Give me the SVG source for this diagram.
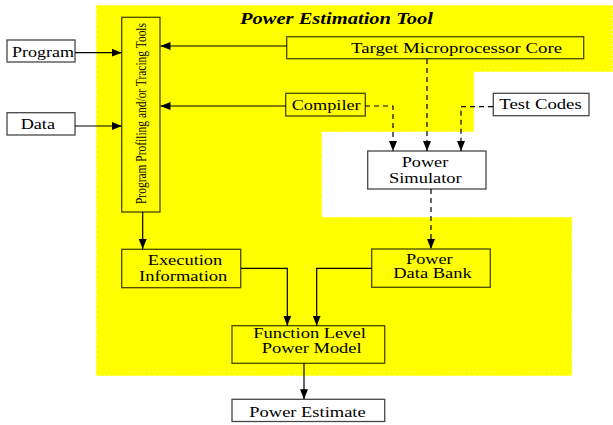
<svg xmlns="http://www.w3.org/2000/svg" width="613" height="425" viewBox="0 0 613 425">
  <style>
    .box { fill: none; stroke: #000; stroke-opacity: 0.72; stroke-width: 1.3; }
    .t { font-family: "Liberation Serif", "Times New Roman", serif; font-size: 14.5px; fill: #000; }
    .title { font-family: "Liberation Serif", "Times New Roman", serif; font-size: 16px; font-weight: bold; font-style: italic; fill: #000; }
    .c { fill: none; stroke: #000; stroke-width: 1.2; }
    .d { fill: none; stroke: #000; stroke-width: 1.2; stroke-dasharray: 5 4; }
  </style>
  <defs>
    <marker id="ah" markerUnits="userSpaceOnUse" markerWidth="11" markerHeight="9" refX="10" refY="4" orient="auto">
      <path d="M0,0 L10,4 L0,8 z" fill="#000"/>
    </marker>
  </defs>

  <g id="region">
    <path d="M96,5 H613 V72 H474 V132 H322 V217 H572 V376 H96 Z" fill="#ffff00" stroke="#ffffe0" stroke-width="1" stroke-dasharray="3 2"/>
    <text class="title" x="240" y="24" textLength="193" lengthAdjust="spacingAndGlyphs">Power Estimation Tool</text>
  </g>

  <g id="connectors">
    <path class="c" d="M75,52.7 H121.7" marker-end="url(#ah)"/>
    <path class="c" d="M75,126 H121.7" marker-end="url(#ah)"/>
    <path class="c" d="M287,46 H160.5" marker-end="url(#ah)"/>
    <path class="c" d="M286,106 H160.5" marker-end="url(#ah)"/>
    <path class="c" d="M142.7,212 V249" marker-end="url(#ah)"/>
    <path class="d" d="M365,106 H393 V151" marker-end="url(#ah)"/>
    <path class="d" d="M427,59 V151" marker-end="url(#ah)"/>
    <path class="d" d="M493,106.7 H461 V151" marker-end="url(#ah)"/>
    <path class="d" d="M431,189 V249" marker-end="url(#ah)"/>
    <path class="c" d="M241,268.3 H287.3 V325.7" marker-end="url(#ah)"/>
    <path class="c" d="M371.7,268.3 H316.7 V325.7" marker-end="url(#ah)"/>
    <path class="c" d="M304,363.3 V399.3" marker-end="url(#ah)"/>
  </g>

  <g id="program">
    <rect class="box" x="7" y="40" width="68" height="22" style="fill:#fff"/>
    <text class="t" x="12" y="57" textLength="62" lengthAdjust="spacingAndGlyphs">Program</text>
  </g>
  <g id="data">
    <rect class="box" x="7" y="112.7" width="68" height="22.3" style="fill:#fff"/>
    <text class="t" x="20.7" y="129" textLength="34.3" lengthAdjust="spacingAndGlyphs">Data</text>
  </g>
  <g id="tools">
    <rect class="box" x="121.7" y="17.3" width="38.3" height="194.7"/>
    <text class="t" transform="translate(145.5,204) rotate(-90)" x="0" y="0" font-size="15.5" textLength="181" lengthAdjust="spacingAndGlyphs">Program Profiling and/or Tracing Tools</text>
  </g>
  <g id="target">
    <rect class="box" x="286.7" y="36.7" width="297" height="22"/>
    <text class="t" x="351" y="52.5" textLength="211" lengthAdjust="spacingAndGlyphs">Target Microprocessor Core</text>
  </g>
  <g id="compiler">
    <rect class="box" x="285.7" y="93.3" width="79.6" height="22.7"/>
    <text class="t" x="291.7" y="110" textLength="69" lengthAdjust="spacingAndGlyphs">Compiler</text>
  </g>
  <g id="testcodes">
    <rect class="box" x="493.3" y="93.3" width="95.7" height="22.4" style="fill:#fff"/>
    <text class="t" x="499.3" y="109.3" textLength="82.4" lengthAdjust="spacingAndGlyphs">Test Codes</text>
  </g>
  <g id="simulator">
    <rect class="box" x="367.7" y="151" width="118.3" height="38" style="fill:#fff"/>
    <text class="t" x="401.7" y="166.7" textLength="46.6" lengthAdjust="spacingAndGlyphs">Power</text>
    <text class="t" x="389" y="182.7" textLength="72.7" lengthAdjust="spacingAndGlyphs">Simulator</text>
  </g>
  <g id="databank">
    <rect class="box" x="371.7" y="249" width="118.6" height="38.3"/>
    <text class="t" x="406" y="264.2" font-size="14" textLength="46.7" lengthAdjust="spacingAndGlyphs">Power</text>
    <text class="t" x="393.3" y="278" font-size="14" textLength="78.4" lengthAdjust="spacingAndGlyphs">Data Bank</text>
  </g>
  <g id="execution">
    <rect class="box" x="121.7" y="249.3" width="119" height="38.4"/>
    <text class="t" x="147.7" y="265" textLength="74.6" lengthAdjust="spacingAndGlyphs">Execution</text>
    <text class="t" x="139" y="281" textLength="88.3" lengthAdjust="spacingAndGlyphs">Information</text>
  </g>
  <g id="function">
    <rect class="box" x="232" y="325.7" width="152.7" height="37.6"/>
    <text class="t" x="253.3" y="338.3" textLength="112.7" lengthAdjust="spacingAndGlyphs">Function Level</text>
    <text class="t" x="261.7" y="353.3" textLength="100" lengthAdjust="spacingAndGlyphs">Power Model</text>
  </g>
  <g id="estimate">
    <rect class="box" x="232" y="399.3" width="152.7" height="22.2" style="fill:#fff"/>
    <text class="t" x="249.3" y="416.7" textLength="116.4" lengthAdjust="spacingAndGlyphs">Power Estimate</text>
  </g>
</svg>
